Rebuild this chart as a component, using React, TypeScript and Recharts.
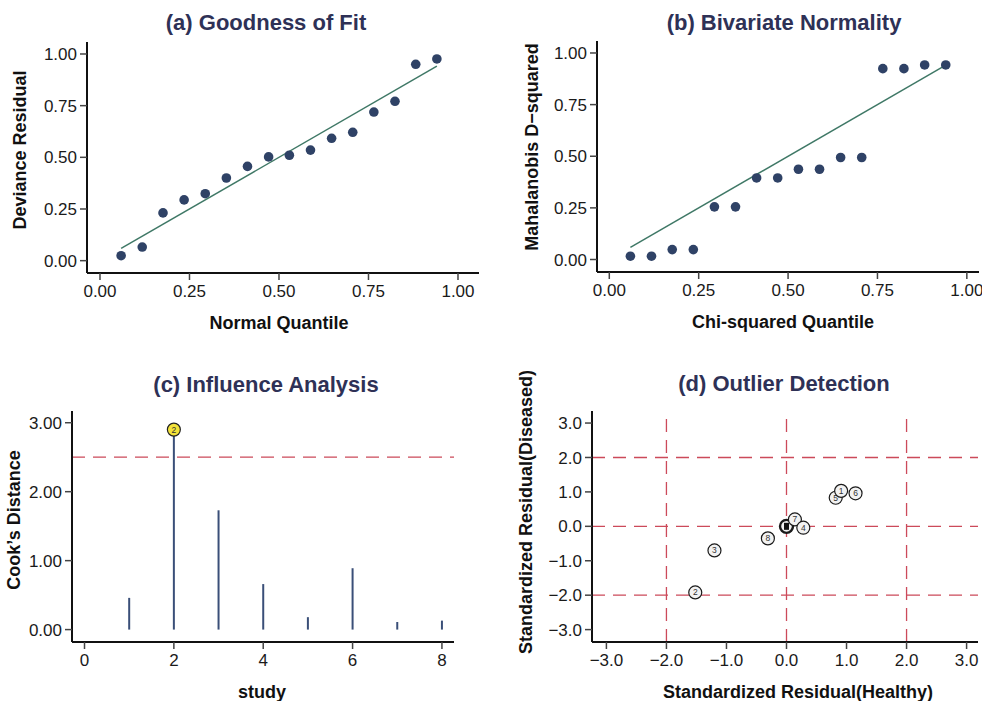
import React from 'react';
import {
  ComposedChart,
  ReferenceLine,
  Scatter,
  XAxis,
  YAxis,
} from 'recharts';

// (a) goodness of fit
const normalQuantile = [0.059, 0.118, 0.176, 0.235, 0.294, 0.353, 0.412, 0.471, 0.529, 0.588, 0.647, 0.706, 0.765, 0.824, 0.882, 0.941];
const devianceResid = [0.024, 0.066, 0.231, 0.294, 0.324, 0.4, 0.456, 0.502, 0.51, 0.535, 0.592, 0.621, 0.719, 0.771, 0.95, 0.976];

// (b) bivariate normality
const chiQuantile = [0.059, 0.118, 0.176, 0.235, 0.294, 0.353, 0.412, 0.471, 0.529, 0.588, 0.647, 0.706, 0.765, 0.824, 0.882, 0.941];
const mahalanobisD2 = [0.016, 0.016, 0.048, 0.048, 0.255, 0.255, 0.395, 0.395, 0.437, 0.437, 0.494, 0.494, 0.924, 0.924, 0.942, 0.942];

// reference line y = x over the quantile range
const fitX = [0.059, 0.941];
const fitY = [0.059, 0.941];

// (c) influence
const studies = [1, 2, 3, 4, 5, 6, 7, 8];
const cooksDistance = [0.46, 2.9, 1.73, 0.66, 0.18, 0.89, 0.11, 0.13];
const influentialStudy = 2;
const cooksThreshold = 2.5;

// (d) outliers
const outlierLabels = ['2', '3', '8', '', '7', '4', '5', '1', '6'];
const healthyResid = [-1.52, -1.2, -0.31, 0, 0.14, 0.28, 0.82, 0.91, 1.15];
const diseasedResid = [-1.92, -0.7, -0.35, 0, 0.2, -0.04, 0.83, 1.03, 0.96];

const unitTicks = [0, 0.25, 0.5, 0.75, 1];
const cookTicksY = [0, 1, 2, 3];
const studyTicks = [0, 2, 4, 6, 8];
const residTicks = [-3, -2, -1, 0, 1, 2, 3];
const cutoffs = [-2, 0, 2];

const FONT = '"Liberation Sans", Arial, sans-serif';
const TITLE_COLOR = '#2e3156';
const DOT = '#2f4266';
const FIT = '#3f7866';
const RED = '#cc4a5a';
const SPIKE = '#3a4f78';

const tick = { fill: '#1a1a1a', fontSize: 17, fontFamily: FONT };
const axisLine = { stroke: '#111', strokeWidth: 2 };
const tickLine = { stroke: '#444', strokeWidth: 1.5 };

const fmt2 = (v: number) => v.toFixed(2);
const fmt1 = (v: number) => v.toFixed(1).replace('-', '\u2212');

const pointsA = normalQuantile.map((x, i) => ({ x, y: devianceResid[i] }));
const pointsB = chiQuantile.map((x, i) => ({ x, y: mahalanobisD2[i] }));
const fitLine = fitX.map((x, i) => ({ x, y: fitY[i] }));
const cookData = studies.map((s, i) => ({ x: s, y: cooksDistance[i] }));
const flagged = cookData.filter((d) => d.x === influentialStudy).map((d) => ({ ...d, label: String(d.x) }));
const outliers = outlierLabels.map((label, i) => ({ x: healthyResid[i], y: diseasedResid[i], label }));

const Title = ({ text, x, y }: { text: string; x: number; y: number }) => (
  <div
    style={{
      position: 'absolute',
      left: x,
      top: y,
      transform: 'translate(-50%, -50%)',
      fontFamily: FONT,
      fontWeight: 700,
      fontSize: 22,
      color: TITLE_COLOR,
      whiteSpace: 'nowrap',
      lineHeight: 1,
    }}
  >
    {text}
  </div>
);

const AxisTitle = ({ text, x, y, vertical }: { text: string; x: number; y: number; vertical?: boolean }) => (
  <div
    style={{
      position: 'absolute',
      left: x,
      top: y,
      transform: `translate(-50%, -50%)${vertical ? ' rotate(-90deg)' : ''}`,
      fontFamily: FONT,
      fontWeight: 700,
      fontSize: 18,
      color: '#111',
      whiteSpace: 'nowrap',
      lineHeight: 1,
    }}
  >
    {text}
  </div>
);

const Dot = (props: any) => <circle cx={props.cx} cy={props.cy} r={4.8} fill={DOT} />;
const NoDot = () => <g />;

const YellowMarker = (props: any) => (
  <g>
    <circle cx={props.cx} cy={props.cy} r={6.5} fill="#f2e23a" stroke="#222" strokeWidth={1.2} />
    <text x={props.cx} y={props.cy + 3} textAnchor="middle" fontSize={8.5} fontFamily={FONT} fill="#333">
      {props.payload.label}
    </text>
  </g>
);

const LabelledCircle = (props: any) => {
  const bold = props.payload.label === '';
  return (
    <g>
      <circle cx={props.cx} cy={props.cy} r={6.5} fill="#f2f2f2" stroke="#1a1a1a" strokeWidth={bold ? 2.4 : 1.2} />
      {bold ? (
        <rect x={props.cx - 2.5} y={props.cy - 3.5} width={5} height={7} fill="#111" />
      ) : (
        <text x={props.cx} y={props.cy + 3} textAnchor="middle" fontSize={8.5} fontFamily={FONT} fill="#333">
          {props.payload.label}
        </text>
      )}
    </g>
  );
};

const QQPanel = ({ points, xDomain, yDomain, margin, width }: any) => (
  <ComposedChart width={width} height={340} margin={margin}>
    <XAxis
      type="number"
      dataKey="x"
      domain={xDomain}
      allowDataOverflow
      ticks={unitTicks}
      tickFormatter={fmt2}
      tick={tick}
      axisLine={axisLine}
      tickLine={tickLine}
      tickSize={7}
      tickMargin={5}
      height={40}
    />
    <YAxis
      type="number"
      dataKey="y"
      domain={yDomain}
      allowDataOverflow
      ticks={unitTicks}
      tickFormatter={fmt2}
      tick={tick}
      axisLine={axisLine}
      tickLine={tickLine}
      tickSize={7}
      tickMargin={3}
      width={60}
    />
    <Scatter data={fitLine} line={{ stroke: FIT, strokeWidth: 1.5 }} shape={NoDot} isAnimationActive={false} />
    <Scatter data={points} shape={Dot} isAnimationActive={false} />
  </ComposedChart>
);

export default function App() {
  return (
    <div style={{ position: 'absolute', left: 0, top: 0, width: 982, height: 701, background: '#fff', overflow: 'hidden' }}>
      {/* (a) */}
      <div style={{ position: 'absolute', left: 0, top: 0 }}>
        <QQPanel
          points={pointsA}
          width={490}
          xDomain={[-0.0363, 1.0587]}
          yDomain={[-0.0597, 1.058]}
          margin={{ top: 42, right: 11, bottom: 27, left: 27 }}
        />
      </div>
      <Title text="(a) Goodness of Fit" x={266} y={23} />
      <AxisTitle text="Normal Quantile" x={279} y={323} />
      <AxisTitle text="Deviance Residual" x={20} y={150} vertical />

      {/* (b) */}
      <div style={{ position: 'absolute', left: 490, top: 0 }}>
        <QQPanel
          points={pointsB}
          width={492}
          xDomain={[-0.0344, 1.034]}
          yDomain={[-0.0605, 1.058]}
          margin={{ top: 41, right: 3, bottom: 28, left: 47 }}
        />
      </div>
      <Title text="(b) Bivariate Normality" x={784} y={23} />
      <AxisTitle text="Chi-squared Quantile" x={783} y={322} />
      <AxisTitle text={'Mahalanobis D\u2212squared'} x={532} y={147} vertical />

      {/* (c) */}
      <div style={{ position: 'absolute', left: 0, top: 360 }}>
        <ComposedChart width={490} height={341} margin={{ top: 51, right: 36, bottom: 19, left: 12 }}>
          <XAxis
            type="number"
            dataKey="x"
            domain={[-0.28, 8.27]}
            allowDataOverflow
            ticks={studyTicks}
            tick={tick}
            axisLine={axisLine}
            tickLine={tickLine}
            tickSize={7}
            tickMargin={5}
            height={40}
          />
          <YAxis
            type="number"
            dataKey="y"
            domain={[-0.18, 3.17]}
            allowDataOverflow
            ticks={cookTicksY}
            tickFormatter={fmt2}
            tick={tick}
            axisLine={axisLine}
            tickLine={tickLine}
            tickSize={7}
            tickMargin={3}
            width={60}
          />
          <ReferenceLine y={cooksThreshold} stroke={RED} strokeWidth={1.3} strokeDasharray="13 8" />
          {/* spikes from zero up to each study's distance */}
          {cookData.map((d) => (
            <ReferenceLine
              key={`s${d.x}`}
              segment={[
                { x: d.x, y: 0 },
                { x: d.x, y: d.y },
              ]}
              stroke={SPIKE}
              strokeWidth={2}
            />
          ))}
          <Scatter data={flagged} shape={YellowMarker} isAnimationActive={false} />
        </ComposedChart>
      </div>
      <Title text="(c) Influence Analysis" x={266} y={385} />
      <AxisTitle text="study" x={262} y={692} />
      <AxisTitle text={'Cook\u2019s Distance'} x={14} y={520} vertical />

      {/* (d) */}
      <div style={{ position: 'absolute', left: 510, top: 360 }}>
        <ComposedChart width={472} height={341} margin={{ top: 51, right: 4, bottom: 19, left: 22 }}>
          <XAxis
            type="number"
            dataKey="x"
            domain={[-3.24, 3.19]}
            allowDataOverflow
            ticks={residTicks}
            tickFormatter={fmt1}
            tick={tick}
            axisLine={axisLine}
            tickLine={tickLine}
            tickSize={7}
            tickMargin={5}
            height={40}
          />
          <YAxis
            type="number"
            dataKey="y"
            domain={[-3.36, 3.35]}
            allowDataOverflow
            ticks={residTicks}
            tickFormatter={fmt1}
            tick={tick}
            axisLine={axisLine}
            tickLine={tickLine}
            tickSize={7}
            tickMargin={3}
            width={60}
          />
          {cutoffs.map((c) => (
            <ReferenceLine key={`h${c}`} y={c} stroke={RED} strokeWidth={1.3} strokeDasharray="13 8" />
          ))}
          {cutoffs.map((c) => (
            <ReferenceLine key={`v${c}`} x={c} stroke={RED} strokeWidth={1.3} strokeDasharray="13 8" />
          ))}
          <Scatter data={outliers} shape={LabelledCircle} isAnimationActive={false} />
        </ComposedChart>
      </div>
      <Title text="(d) Outlier Detection" x={784} y={384} />
      <AxisTitle text="Standardized Residual(Healthy)" x={798} y={692} />
      <AxisTitle text="Standardized Residual(Diseased)" x={526} y={512} vertical />
    </div>
  );
}
